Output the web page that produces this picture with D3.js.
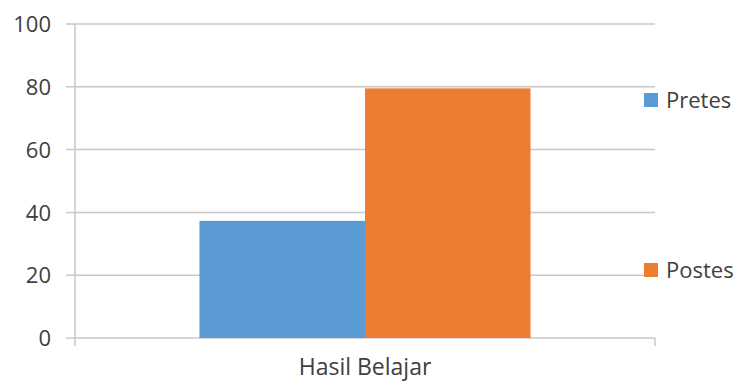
<!DOCTYPE html>
<html><head><meta charset="utf-8">
<script src="https://cdn.jsdelivr.net/npm/d3@7"></script>
<style>body{margin:0;background:#fff}svg{display:block}text{font-family:"Open Sans",sans-serif}</style>
</head><body>
<svg id="c" width="738" height="383"></svg>
<script>
const categories = ["Hasil Belajar"];
const seriesNames = ["Pretes", "Postes"];
const pretes = [37.3];
const postes = [79.5];
const yTicks = [0, 20, 40, 60, 80, 100];
const colors = ["#5B9BD5", "#ED7D31"];

const svg = d3.select("#c");
const m = {left: 75, right: 655, top: 24, bottom: 338};
const txt = "#404040";
const fs = "22px";
const x = d3.scaleBand().domain(categories).range([m.left, m.right]);
const xs = d3.scaleBand().domain(seriesNames).range([0, x.bandwidth()]).paddingOuter(0.752).paddingInner(0);
const y = d3.scaleLinear().domain([0, 100]).range([m.bottom, m.top]);

// gridlines
svg.append("g").selectAll("line").data(yTicks).join("line")
  .attr("x1", m.left - 9).attr("x2", m.right)
  .attr("y1", d => y(d)).attr("y2", d => y(d))
  .attr("stroke", "#c8c8c8").attr("stroke-width", 1.5);

// y axis
const ya = svg.append("g").attr("transform", `translate(${m.left},0)`)
  .call(d3.axisLeft(y).tickValues(yTicks).tickSize(0).tickPadding(24));
ya.select(".domain").remove();
ya.selectAll("text").style("font-size", fs).attr("fill", txt).attr("dy", "0.35em");
svg.append("line").attr("x1", m.left).attr("x2", m.left).attr("y1", m.top).attr("y2", m.bottom + 8)
  .attr("stroke", "#c8c8c8").attr("stroke-width", 1.5);
svg.append("line").attr("x1", m.right).attr("x2", m.right).attr("y1", m.bottom).attr("y2", m.bottom + 8)
  .attr("stroke", "#c8c8c8").attr("stroke-width", 1.5);

// bars
const data = categories.map((c, i) => ({c, vals: [pretes[i], postes[i]]}));
const g = svg.append("g");
data.forEach(d => {
  seriesNames.forEach((s, j) => {
    g.append("rect")
      .attr("x", x(d.c) + xs(s)).attr("width", xs.bandwidth())
      .attr("y", y(d.vals[j])).attr("height", y(0) - y(d.vals[j]))
      .attr("fill", colors[j]);
  });
});

// x axis label
const xa = svg.append("g").attr("transform", `translate(0,${m.bottom})`)
  .call(d3.axisBottom(x).tickSize(0).tickPadding(21));
xa.select(".domain").remove();
xa.selectAll("text").style("font-size", "23px").attr("fill", txt);

// legend
const legY = [100, 270];
const lg = svg.append("g");
seriesNames.forEach((s, j) => {
  lg.append("rect").attr("x", 644).attr("y", legY[j] - 7).attr("width", 14).attr("height", 14).attr("fill", colors[j]);
  lg.append("text").attr("x", 666).attr("y", legY[j]).attr("dy", "0.35em")
    .style("font-size", fs).attr("fill", txt).text(s);
});
</script>
</body></html>
